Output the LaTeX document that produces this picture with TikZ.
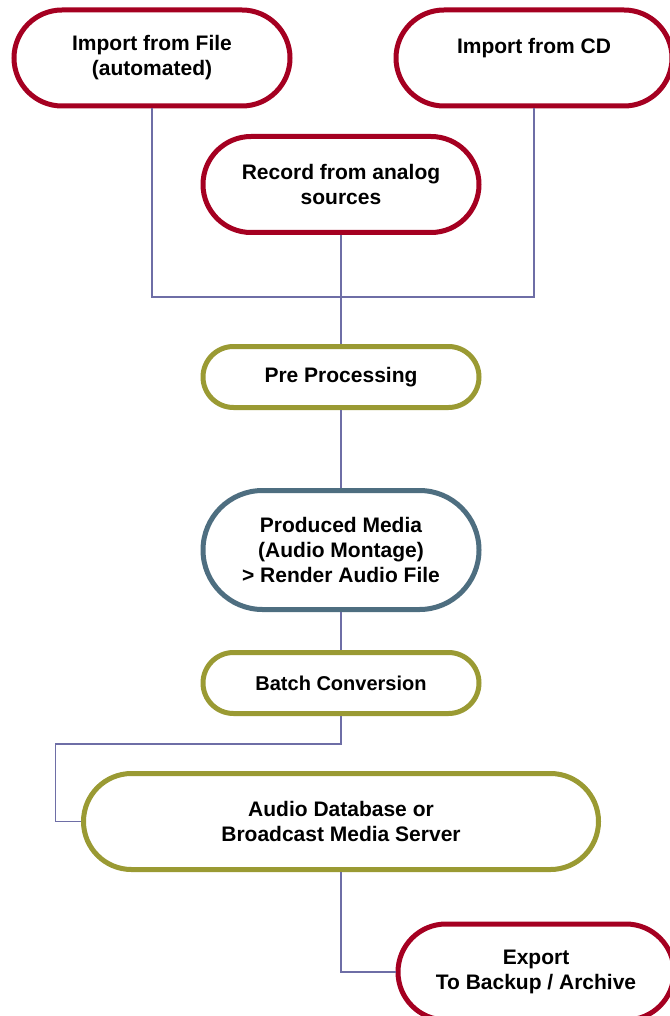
\documentclass[tikz,border=0pt]{standalone}
\usepackage{fontspec}
\setmainfont{Liberation Sans}
\usetikzlibrary{%
    positioning,
    shapes.misc
}
\definecolor{stagered}{HTML}{A50021}
\definecolor{stageolive}{HTML}{9A9A33}
\definecolor{stageblue}{HTML}{4E6E80}
\definecolor{linkblue}{HTML}{6E6EA6}
\tikzset{stage/.style = {rounded rectangle, draw, fill=white, line width=5pt,
    minimum width=276pt, minimum height=96pt, inner sep=0pt, align=center,
    font=\fontsize{21}{25}\selectfont\bfseries}}
\tikzset{source/.style = {stage, draw=stagered}}
\tikzset{process/.style = {stage, draw=stageolive}}
\tikzset{link/.style = {linkblue, line width=1.3pt}}

\begin{document}
\begin{tikzpicture}[x=1pt, y=-1pt]
    \useasboundingbox (0,0) rectangle (669,1016);

    \node (file) [source] at (152,58) {Import from File\\(automated)};
    \node (cd) [source, right=101pt of file] {Import from CD\\\mbox{}};
    \node (rec) [source] at (341,184.5) {Record from analog\\sources};

    \node (pre) [process, minimum height=61pt, below=109pt of rec] {Pre Processing};
    \node (prod) [stage, draw=stageblue, minimum height=119pt, below=78pt of pre]
        {Produced Media\\(Audio Montage)\\> Render Audio File};
    \node (batch) [process, minimum height=61pt, below=38pt of prod,
        font=\fontsize{20}{24}\selectfont\bfseries] {Batch Conversion};
    \node (audio) [process, minimum width=515pt, below=55pt of batch]
        {Audio Database or\\Broadcast Media Server};
    \node (export) [source] at (536,972) {Export\\To Backup / Archive};

    \coordinate (merge) at (341,297);
    \coordinate (detour) at (55.5,744);

    \draw[link] (file.south) |- (merge) -| (cd.south);
    \foreach \Source/\Target in {rec/pre, pre/prod, prod/batch}
        \draw[link] (\Source.south) to (\Target.north);
    \draw[link] (batch.south) |- (detour) |- (audio.west);
    \draw[link] (audio.south) |- (export.west);
\end{tikzpicture}
\end{document}
